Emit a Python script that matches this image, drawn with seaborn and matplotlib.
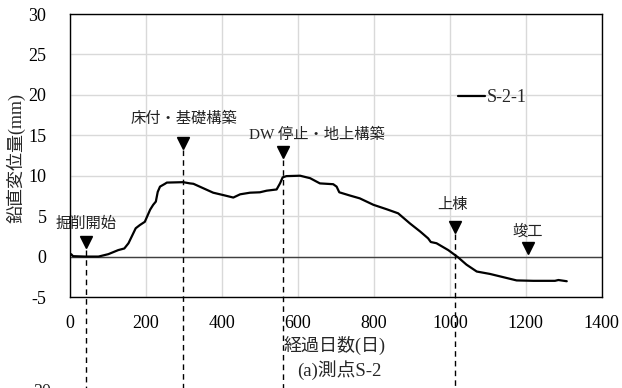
import matplotlib
matplotlib.use("Agg")
import matplotlib.pyplot as plt
import seaborn as sns
import pandas as pd

# Settlement record of point S-2-1
days = [0, 3, 8, 40, 75, 101, 127, 143, 154, 173, 184, 197, 211, 219, 226, 231,
        237, 250, 255, 298, 316, 325, 351, 377, 404, 430, 448, 474, 500, 518,
        544, 553, 560, 570, 606, 623, 632, 658, 693, 702, 709, 737, 763, 799,
        834, 864, 895, 922, 943, 950, 965, 996, 1022, 1044, 1071, 1106, 1141,
        1176, 1220, 1277, 1286, 1308]
disp = [0.1, 0.3, 0.05, 0.0, 0.0, 0.3, 0.8, 1.0, 1.65, 3.5, 3.9, 4.3, 5.8, 6.4,
        6.8, 8.0, 8.65, 9.0, 9.15, 9.2, 9.05, 9.0, 8.45, 7.9, 7.6, 7.3, 7.7, 7.9,
        7.95, 8.15, 8.3, 9.05, 9.8, 9.95, 10.0, 9.8, 9.7, 9.05, 8.95, 8.65, 7.95,
        7.55, 7.2, 6.4, 5.85, 5.35, 4.1, 3.1, 2.25, 1.8, 1.65, 0.8, -0.1, -1.0,
        -1.85, -2.15, -2.55, -2.95, -3.0, -3.0, -2.9, -3.05]
series_name = "S-2-1"

# Construction milestones: label, day, marker level, label level, dashed guide
events = ["掘削開始", "床付・基礎構築", "DW 停止・地上構築", "上棟", "竣工"]
event_days = [42, 298, 560, 1013, 1206]
event_marker_y = [1.75, 14.05, 12.9, 3.7, 1.0]
event_label_x = [42, 300, 649, 1006, 1204]
event_label_y = [4.1, 17.1, 15.0, 6.4, 3.1]
event_guide = [True, True, True, True, False]

x_ticks = [0, 200, 400, 600, 800, 1000, 1200, 1400]
y_ticks = [-5, 0, 5, 10, 15, 20, 25, 30]

sns.set_style("white")
plt.rcParams['font.family'] = ['Liberation Serif', 'Noto Sans CJK JP']
plt.rcParams['axes.unicode_minus'] = False

fig = plt.figure(figsize=(6.22, 3.88), dpi=100)
ax = fig.add_axes([70 / 622, 91 / 388, 531.7 / 622, 283 / 388])

df = pd.DataFrame({"day": days, "disp": disp})
sns.lineplot(data=df, x="day", y="disp", ax=ax, color="black", lw=1.6,
             estimator=None, sort=False, label=series_name, zorder=4)

ax.set_xlim(0, 1400)
ax.set_ylim(-5, 30)
ax.set_xticks(x_ticks)
ax.set_yticks(y_ticks)
ax.grid(True, color="#d9d9d9", lw=1.0, zorder=0)
ax.axhline(0, color="#404040", lw=1.0, zorder=2)
for s in ax.spines.values():
    s.set_color("black")
    s.set_linewidth(1.0)
ax.tick_params(axis="both", length=0, labelsize=13, colors="black")
ax.tick_params(axis="x", pad=13)
ax.tick_params(axis="y", pad=17)
ax.set_xlabel("")
ax.set_ylabel("")

# milestones
for name, d, my, lx, ly, guide in zip(events, event_days, event_marker_y,
                                       event_label_x, event_label_y, event_guide):
    ax.plot([d], [my], marker="v", color="black", markersize=9, ls="none",
            zorder=5, clip_on=False)
    if guide:
        ax.plot([d, d], [my - 0.9, -17.5], color="black", lw=1.0,
                ls=(0, (4, 3)), zorder=3, clip_on=False)
    ax.text(lx, ly, name, ha="center", va="center", fontsize=11,
            color="#222222", family=['Liberation Serif', 'Noto Sans CJK JP'], zorder=6)

leg = ax.legend(loc="center left", bbox_to_anchor=(458 / 622, 1 - 98 / 388),
                bbox_transform=fig.transFigure, frameon=False, fontsize=13,
                handlelength=1.5, handletextpad=0.1, borderpad=0,
                borderaxespad=0)

fig.text(335 / 622, 1 - 345 / 388, "経過日数(日)", ha="center", va="center",
         fontsize=13)
fig.text(339 / 622, 1 - 370 / 388, "(a)測点S-2", ha="center", va="center",
         fontsize=13.5)
fig.text(16 / 622, 1 - 158 / 388, "鉛直変位量(mm)", ha="center", va="center",
         rotation=90, fontsize=13)
# top tick label of the panel below
fig.text(42 / 622, 1 - 384 / 388, "30", ha="center", va="top", fontsize=13)

fig.savefig("out.png", dpi=100)
